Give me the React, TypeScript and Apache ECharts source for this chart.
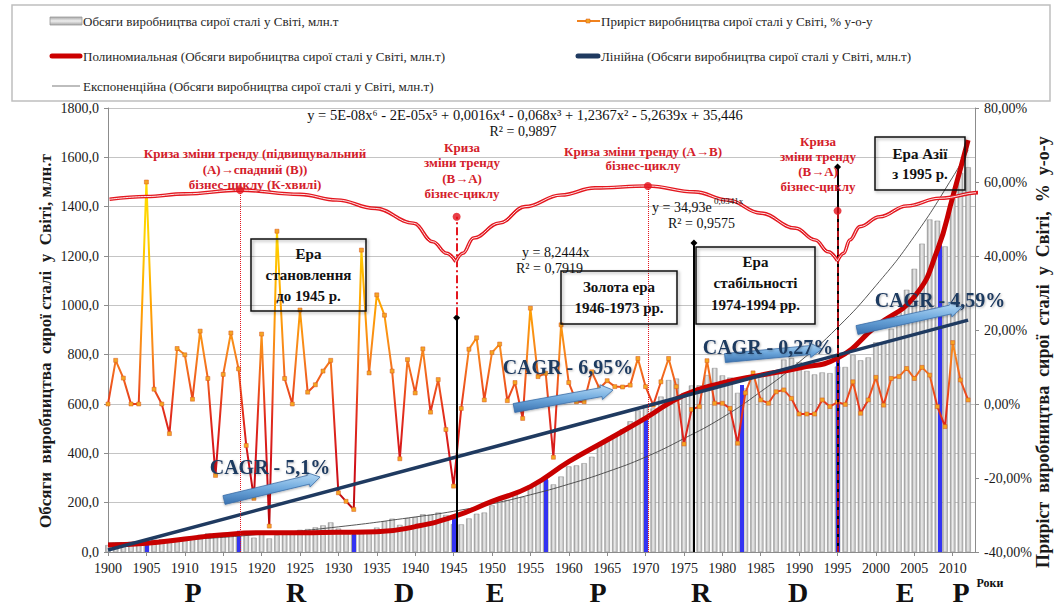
import React, { useEffect, useRef } from 'react';
import * as echarts from 'echarts';

const FF = 'Liberation Serif';

// ---- data ----
const startYear = 1900;
const production = [
  28, 31, 34, 36, 36, 44, 50, 52, 44, 54,
  60, 60, 70, 76, 60, 66, 78, 81, 77, 58,
  72, 55, 68, 78, 78, 90, 93, 100, 108, 120,
  95, 78, 70, 75, 85, 99, 124, 135, 110, 137,
  141, 153, 150, 160, 150, 113, 112, 136, 155, 160,
  189, 210, 211, 235, 223, 270, 283, 292, 274, 306,
  347, 351, 360, 386, 434, 456, 475, 497, 530, 574,
  595, 582, 630, 697, 703, 644, 675, 676, 717, 746,
  716, 707, 645, 663, 710, 719, 714, 736, 780, 786,
  770, 734, 720, 728, 725, 752, 750, 799, 777, 789,
  850, 851, 905, 971, 1063, 1148, 1250, 1348, 1343, 1239,
  1433, 1538, 1560,
];
const growth = [
  0, 11.8, 7.0, 0, 0, 60, 4.0, 0, -8.0, 15.0,
  13.3, 1.3, 19.7, 6.9, -19.3, 8.0, 19.2, 9.5, -11.2, -25.5,
  18.9, -33, 46.7, 6.9, 0, 25.4, 3.2, 5.2, 8.9, 11.8,
  -24, -26.3, -28.5, 41.6, 8.4, 29.5, 24, 8.9, -14.8, 12,
  3, 14.9, -2.2, 6.6, -6.9, -22.2, -1.2, 14.8, 17.9, 1.1,
  13.9, 16.2, 0.9, 5.8, -3.9, 25.9, 7.4, 8.3, -14.4, 21.4,
  5.8, 0.6, 0.6, 8.7, 4.2, 6.3, 4.7, 4.6, 5.1, 12.3,
  4.7, -0.3, 6.0, 12.3, 4.7, -10.8, -1.5, -0.7, 11.7, 0.2,
  0.2, -1.2, -10.6, 3.0, 8.4, 1.1, 0.2, 3.3, 3.8, 1.5,
  -2.7, -2.7, -2.7, 1.1, -0.7, 0.5, -0.1, 6.0, -2.5, 1.1,
  7.2, -0.3, 6.9, 7.4, 9.6, 6.9, 9.9, 7.8, -0.7, -6.1,
  16.6, 6.5, 1.1,
];
const polyYears = [1900, 1905, 1910, 1915, 1920, 1925, 1930, 1935, 1940, 1945, 1950, 1955, 1960, 1965, 1970, 1975, 1980, 1985, 1990, 1995, 2000, 2005, 2008, 2010, 2012];
const polyValues = [28, 35, 53, 70, 78, 78, 80, 82, 103, 143, 205, 265, 366, 454, 543, 636, 685, 717, 746, 786, 915, 1035, 1224, 1440, 1670];
const linYears = [1900, 2012];
const linValues = [8, 940];
const expYears = [1900, 1910, 1920, 1930, 1940, 1945, 1950, 1955, 1960, 1965, 1970, 1975, 1980, 1985, 1990, 1995, 2000, 2005, 2010, 2012];
const expValues = [36, 50, 72, 102, 142, 165, 195, 232, 275, 325, 385, 460, 545, 650, 770, 910, 1080, 1280, 1520, 1630];

const arc1Years = [1900.2, 1905, 1910, 1917.2, 1925, 1929.8, 1934.8, 1939.8, 1942.3, 1944.1, 1945.3];
const arc1Values = [1430, 1441, 1452, 1467, 1450, 1427, 1393, 1333, 1258, 1211, 1177];
const arc2Years = [1945.3, 1946.2, 1947.6, 1951, 1954.3, 1959, 1963.4, 1970.3, 1976.4, 1980.7, 1985, 1989.5, 1992.1, 1993.8, 1995];
const arc2Values = [1177, 1211, 1273, 1334, 1400, 1447, 1476, 1484, 1460, 1427, 1374, 1313, 1265, 1217, 1180];
const arc3Years = [1995, 1995.8, 1996.6, 1997.9, 2000.5, 2004, 2008.3, 2013.5, 2023.8];
const arc3Values = [1180, 1211, 1265, 1319, 1359, 1403, 1434, 1457, 1470];

const crisisDotYears = [1917.2, 1970.3, 1945.4, 1995];
const crisisDotValues = [1467, 1484, 1359, 1383];
const blueYears = [1905, 1917, 1932, 1945, 1957, 1970, 1982.5, 1995, 2008.3];
const blueValues = [42, 86, 89, 146, 305, 535, 677, 798, 1245];
const blackYears = [1945.4, 1976.3, 1995];
const blackTops = [950, 1253, 1561];

const legendNames = [
  'Обсяги виробництва сирої сталі у Світі, млн.т',
  'Приріст виробництва сирої сталі у Світі, % у-о-у',
  'Полиномиальная (Обсяги виробництва сирої сталі у Світі, млн.т)',
  'Лінійна (Обсяги виробництва сирої сталі у Світі, млн.т)',
  'Експоненційна (Обсяги виробництва сирої сталі у Світі, млн.т)',
];
const phaseLetters = ['P', 'R', 'D', 'E', 'P', 'R', 'D', 'E', 'P'];
const phaseX = [193, 296, 404, 495, 598, 701, 798, 905, 961];

function arrowPoints(x1: number, y1: number, x2: number, y2: number) {
  const w = 4.5, hw = 7.5, hl = 12;
  const dx = x2 - x1, dy = y2 - y1;
  const L = Math.hypot(dx, dy);
  const ux = dx / L, uy = dy / L, nx = -uy, ny = ux;
  const bx = x2 - ux * hl, by = y2 - uy * hl;
  return [
    [x1 + nx * w, y1 + ny * w], [bx + nx * w, by + ny * w], [bx + nx * hw, by + ny * hw],
    [x2, y2], [bx - nx * hw, by - ny * hw], [bx - nx * w, by - ny * w], [x1 - nx * w, y1 - ny * w],
  ];
}

function txt(x: number, y: number, text: string, size: number, bold: boolean, fill: string, align = 'center', extra: any = {}) {
  return {
    type: 'text', x, y, z: 50,
    style: { text, fontSize: size, fontWeight: bold ? 'bold' : 'normal', fontFamily: FF, fill, textAlign: align, textVerticalAlign: 'middle', ...extra },
  };
}

function buildGraphic() {
  const g: any[] = [];
  // legend box
  g.push({ type: 'rect', z: 40, shape: { x: 12, y: 5, width: 1038, height: 96 }, style: { fill: '#fff', stroke: '#bfbfbf', lineWidth: 1.5 } });
  const lc = '#262626';
  const r1 = 21, r2 = 56, r3 = 86;
  g.push({ type: 'rect', z: 41, shape: { x: 50, y: r1 - 4, width: 32, height: 8 }, style: { fill: new echarts.graphic.LinearGradient(0, 0, 0, 1, [{ offset: 0, color: '#a8a8a8' }, { offset: 0.5, color: '#eeeeee' }, { offset: 1, color: '#a8a8a8' }]), stroke: '#999', lineWidth: 0.8 } });
  g.push(txt(83, r1, legendNames[0], 13, false, lc, 'left'));
  g.push({ type: 'line', z: 41, shape: { x1: 577, y1: r1, x2: 600, y2: r1 }, style: { stroke: '#f0821e', lineWidth: 2 } });
  g.push({ type: 'rect', z: 42, shape: { x: 586, y: r1 - 2, width: 4, height: 4 }, style: { fill: '#f5a623', stroke: '#d9541e', lineWidth: 0.5 } });
  g.push(txt(601, r1, legendNames[1], 13, false, lc, 'left'));
  g.push({ type: 'line', z: 41, shape: { x1: 52, y1: r2, x2: 80, y2: r2 }, style: { stroke: '#cc0000', lineWidth: 5, lineCap: 'round' } });
  g.push(txt(83, r2, legendNames[2], 13, false, lc, 'left'));
  g.push({ type: 'line', z: 41, shape: { x1: 578, y1: r2, x2: 598, y2: r2 }, style: { stroke: '#1f3a60', lineWidth: 5, lineCap: 'round' } });
  g.push(txt(601, r2, legendNames[3], 13, false, lc, 'left'));
  g.push({ type: 'line', z: 41, shape: { x1: 52, y1: r3, x2: 80, y2: r3 }, style: { stroke: '#bdbdbd', lineWidth: 2 } });
  g.push(txt(83, r3, legendNames[4], 13, false, lc, 'left'));

  // axis titles
  g.push({ type: 'text', x: 45, y: 341, rotation: Math.PI / 2, z: 50, style: { text: 'Обсяги  виробництва  сирої сталі  у  Світі, млн.т', fontSize: 17, fontWeight: 'bold', fontFamily: FF, fill: '#1a1a1a', textAlign: 'center', textVerticalAlign: 'middle' } });
  g.push({ type: 'text', x: 1043, y: 352, rotation: Math.PI / 2, z: 50, style: { text: 'Приріст  виробництва  сирої  сталі  у  Світі,  %  у-о-у', fontSize: 18, fontWeight: 'bold', fontFamily: FF, fill: '#1a1a1a', textAlign: 'center', textVerticalAlign: 'middle' } });

  // equations
  g.push(txt(525, 115, 'y = 5E-08x⁶ - 2E-05x⁵ + 0,0016x⁴ - 0,068x³ + 1,2367x² - 5,2639x + 35,446', 14.5, false, '#111'));
  g.push(txt(523, 131, 'R² = 0,9897', 14, false, '#111'));
  g.push(txt(522, 252, 'y = 8,2444x', 14, false, '#111', 'left'));
  g.push(txt(516, 268, 'R² = 0,7919', 14, false, '#111', 'left'));
  g.push(txt(652, 207, 'y = 34,93e', 14, false, '#111', 'left'));
  g.push(txt(714, 201, '0,0341x', 9, false, '#111', 'left'));
  g.push(txt(668, 223, 'R² = 0,9575', 14, false, '#111', 'left'));

  // red crisis annotations
  const rc = '#d4202a';
  [['Криза зміни тренду (підвищувальний', 153], ['(А)→спадний (В))', 169], ['бізнес-циклу (К-хвилі)', 184]].forEach(([t, y]) => g.push(txt(255, y as number, t as string, 13, true, rc)));
  [['Криза', 147], ['зміни тренду', 162], ['(В→А)', 178], ['бізнес-циклу', 193]].forEach(([t, y]) => g.push(txt(462, y as number, t as string, 13, true, rc)));
  [['Криза зміни тренду (А→В)', 151], ['бізнес-циклу', 165]].forEach(([t, y]) => g.push(txt(643, y as number, t as string, 13, true, rc)));
  [['Криза', 141], ['зміни тренду', 156], ['(В→А)', 171], ['бізнес-циклу', 186]].forEach(([t, y]) => g.push(txt(818, y as number, t as string, 13, true, rc)));

  // era boxes
  const boxes: any[] = [
    [251, 239, 115, 72, [['Ера', 254], ['становлення', 275], ['до 1945 р.', 296]]],
    [561, 271, 116, 53, [['Золота ера', 287], ['1946-1973 рр.', 308]]],
    [696, 247, 119, 77, [['Ера', 262], ['стабільності', 283], ['1974-1994 рр.', 305]]],
    [875, 137, 90, 53, [['Ера Азії', 154], ['з 1995 р.', 174]]],
  ];
  boxes.forEach(([x, y, w, h, lines]) => {
    g.push({ type: 'rect', z: 45, shape: { x, y, width: w, height: h }, style: { fill: 'rgba(255,255,255,0)', stroke: '#111', lineWidth: 1.5, shadowBlur: 3, shadowColor: 'rgba(0,0,0,0.35)', shadowOffsetX: 1.5, shadowOffsetY: 1.5 } });
    lines.forEach(([t, ly]: any) => g.push(txt(x + w / 2, ly, t, 15, true, '#111')));
  });

  // arrows
  const arrows = [[224, 500, 320, 477], [514, 408, 613, 390], [725, 358, 822, 349], [857, 330, 962, 307]];
  arrows.forEach(([x1, y1, x2, y2]) => {
    g.push({ type: 'polygon', z: 46, shape: { points: arrowPoints(x1, y1, x2, y2) }, style: { fill: new echarts.graphic.LinearGradient(0, 0, 0, 1, [{ offset: 0, color: '#b9dcf7' }, { offset: 0.5, color: '#6fa9dd' }, { offset: 1, color: '#3a72b0' }]), stroke: '#3c6fa8', lineWidth: 0.8, shadowBlur: 2, shadowColor: 'rgba(0,0,0,0.3)', shadowOffsetY: 1 } });
  });
  // CAGR labels
  const cc = '#1f3a60';
  const sh = { textShadowColor: 'rgba(0,0,0,0.25)', textShadowBlur: 2, textShadowOffsetX: 1, textShadowOffsetY: 1 };
  g.push(txt(270, 467, 'CAGR - 5,1%', 20, true, cc, 'center', sh));
  g.push(txt(568, 367, 'CAGR - 6,95%', 20, true, cc, 'center', sh));
  g.push(txt(768, 347, 'CAGR - 0,27%', 20, true, cc, 'center', sh));
  g.push(txt(940, 300, 'CAGR - 4,59%', 20, true, cc, 'center', sh));

  // phase letters and axis name
  phaseLetters.forEach((l, i) => g.push({ type: 'text', x: phaseX[i], y: 606, z: 50, style: { text: l, fontSize: 28, fontWeight: 'bold', fontFamily: FF, fill: '#111', textAlign: 'center', textVerticalAlign: 'bottom' } }));
  g.push(txt(990, 583, 'Роки', 12, true, '#111'));
  return g;
}

export default function App() {
  const ref = useRef<HTMLDivElement>(null);
  useEffect(() => {
    document.body.style.margin = '0';
    if (!ref.current) return;
    const chart = echarts.init(ref.current, undefined, { renderer: 'svg' });
    const years = production.map((_, i) => startYear + i);
    const pair = (xs: number[], ys: number[]) => xs.map((x, i) => [x, ys[i]]);
    const arcSeries = (xs: number[], ys: number[]) => [
      { type: 'line', data: pair(xs, ys), smooth: 0.4, smoothMonotone: 'x', showSymbol: false, clip: false, silent: true, z: 8, lineStyle: { color: '#e3161e', width: 3.6 } },
      { type: 'line', data: pair(xs, ys), smooth: 0.4, smoothMonotone: 'x', showSymbol: false, clip: false, silent: true, z: 9, lineStyle: { color: '#ffffff', width: 0.9 } },
    ];
    const growthGradient = new echarts.graphic.LinearGradient(0, 108, 0, 552, [
      { offset: 0, color: '#ffe600' },
      { offset: 0.3, color: '#ffd000' },
      { offset: 0.44, color: '#ffa400' },
      { offset: 0.55, color: '#f7861d' },
      { offset: 0.62, color: '#ef5a1e' },
      { offset: 0.68, color: '#e3301c' },
      { offset: 0.8, color: '#d3121a' },
      { offset: 1, color: '#a80000' },
    ], true);
    const vLines: any[] = [];
    blackYears.forEach((x, i) => {
      vLines.push([{ coord: [x, 0], symbol: 'none', lineStyle: { color: '#000', width: 2, type: 'solid' } }, { coord: [x, blackTops[i]], symbol: 'diamond', symbolSize: 7 }]);
    });
    vLines.push([{ coord: [crisisDotYears[0], 0], symbol: 'none', lineStyle: { color: '#e3161e', width: 1, type: 'dotted' } }, { coord: [crisisDotYears[0], crisisDotValues[0]], symbol: 'none' }]);
    vLines.push([{ coord: [crisisDotYears[1], 0], symbol: 'none', lineStyle: { color: '#e3161e', width: 1, type: 'dotted' } }, { coord: [crisisDotYears[1], crisisDotValues[1]], symbol: 'none' }]);
    vLines.push([{ coord: [crisisDotYears[2], 960], symbol: 'none', lineStyle: { color: '#e3161e', width: 2, type: [8, 3, 2, 3] } }, { coord: [crisisDotYears[2], crisisDotValues[2]], symbol: 'none' }]);
    vLines.push([{ coord: [crisisDotYears[3], 0], symbol: 'none', lineStyle: { color: '#e3161e', width: 1.5, type: [6, 3] } }, { coord: [crisisDotYears[3], crisisDotValues[3]], symbol: 'none' }]);
    const blueLines = blueYears.map((x, i) => [{ coord: [x, 0], symbol: 'none' }, { coord: [x, blueValues[i]], symbol: 'none' }]);

    const axisLabelStyle = { color: '#1a1a1a', fontSize: 14, fontFamily: FF, margin: 9 };
    chart.setOption({
      animation: false,
      textStyle: { fontFamily: FF },
      grid: { left: 108, right: 83, top: 108, bottom: 55, containLabel: false },
      xAxis: {
        type: 'value', min: 1900, max: 2012.9, interval: 5,
        axisLine: { lineStyle: { color: '#8c8c8c' } },
        axisTick: { length: 4, lineStyle: { color: '#8c8c8c' } },
        splitLine: { show: false },
        axisLabel: { ...axisLabelStyle, showMaxLabel: false, formatter: (v: number) => (v % 5 === 0 ? String(v) : '') },
      },
      yAxis: [
        {
          type: 'value', min: 0, max: 1800, interval: 200, position: 'left',
          axisLine: { show: true, lineStyle: { color: '#8c8c8c' } },
          axisTick: { show: true, length: 4, lineStyle: { color: '#8c8c8c' } },
          splitLine: { lineStyle: { color: '#c4c4c4' } },
          axisLabel: { ...axisLabelStyle, formatter: (v: number) => v.toFixed(1).replace('.', ',') },
        },
        {
          type: 'value', min: -40, max: 80, interval: 20, position: 'right',
          axisLine: { show: true, lineStyle: { color: '#8c8c8c' } },
          axisTick: { show: true, length: 4, lineStyle: { color: '#8c8c8c' } },
          splitLine: { show: false },
          axisLabel: { ...axisLabelStyle, formatter: (v: number) => v.toFixed(2).replace('.', ',') + '%' },
        },
      ],
      series: [
        {
          name: legendNames[0], type: 'bar', data: pair(years, production), barWidth: 5.5, z: 1,
          itemStyle: { color: new echarts.graphic.LinearGradient(0, 0, 1, 0, [{ offset: 0, color: '#9a9a9a' }, { offset: 0.45, color: '#ececec' }, { offset: 1, color: '#b0b0b0' }]), borderColor: '#8a8a8a', borderWidth: 0.5 },
        },
        {
          type: 'scatter', data: [], silent: true, z: 2,
          markLine: { silent: true, z: 2, symbol: ['none', 'none'], label: { show: false }, lineStyle: { color: '#3434f2', width: 4, type: 'solid' }, data: blueLines },
        },
        { name: legendNames[4], type: 'line', data: pair(expYears, expValues), smooth: true, showSymbol: false, z: 3, lineStyle: { color: '#444', width: 0.9 } },
        {
          name: legendNames[1], type: 'line', yAxisIndex: 1, data: pair(years, growth), symbol: 'rect', symbolSize: 4, z: 4,
          lineStyle: { color: growthGradient, width: 2 },
          itemStyle: { color: '#f5a623', borderColor: '#d9541e', borderWidth: 0.5 },
        },
        { name: legendNames[2], type: 'line', data: pair(polyYears, polyValues), smooth: true, showSymbol: false, z: 5, lineStyle: { color: '#c80000', width: 5 } },
        { name: legendNames[3], type: 'line', data: pair(linYears, linValues), showSymbol: false, z: 6, lineStyle: { color: '#1f3a60', width: 3.5 } },
        {
          type: 'scatter', data: [], silent: true, z: 7,
          markLine: { silent: true, z: 7, symbol: ['none', 'none'], symbolSize: 7, label: { show: false }, itemStyle: { color: '#000' }, data: vLines },
        },
        ...arcSeries(arc1Years, arc1Values),
        ...arcSeries(arc2Years, arc2Values),
        ...arcSeries(arc3Years, arc3Values),
        { type: 'scatter', data: pair(crisisDotYears, crisisDotValues), symbolSize: 8, z: 10, silent: true, itemStyle: { color: '#e3101a' } },
      ],
      graphic: buildGraphic(),
    });
    return () => chart.dispose();
  }, []);
  return <div ref={ref} style={{ width: 1058, height: 607 }} />;
}
